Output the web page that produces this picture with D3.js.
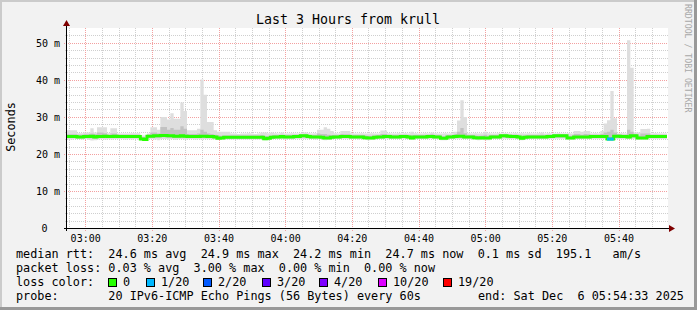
<!DOCTYPE html>
<html>
<head>
<meta charset="utf-8">
<script src="https://cdn.jsdelivr.net/npm/d3@7"></script>
<style>
  html, body { margin: 0; padding: 0; background: #f2f2f2; }
  svg { display: block; }
  text { font-family: "DejaVu Sans Mono", monospace; fill: #000; }
</style>
</head>
<body>
<svg></svg>
<script>
// one sample per minute, 02:54:33 .. 05:54:33 (180 samples)
const startTime = Date.UTC(2025, 11, 6, 2, 54, 33);
const endTime = Date.UTC(2025, 11, 6, 5, 54, 33);

// median rtt in ms
const median = [
  24.7,24.7,24.7,24.6,24.6,24.7,24.7,24.8,24.6,24.7,
  24.7,24.8,24.7,24.7,24.8,24.7,24.7,24.7,24.7,24.7,
  24.7,24.7,24.0,23.9,24.8,24.8,24.9,24.9,25.0,25.0,
  24.9,24.9,24.8,24.8,24.9,24.8,24.7,24.7,24.7,24.7,
  24.8,24.8,24.7,24.7,24.6,24.2,24.3,24.5,24.5,24.5,
  24.5,24.5,24.5,24.5,24.5,24.5,24.5,24.5,24.5,24.1,
  24.2,24.5,24.6,24.6,24.7,24.6,24.6,24.6,24.7,24.7,
  24.9,24.9,24.7,24.6,24.6,24.6,24.5,24.3,24.3,24.5,
  24.6,24.6,24.7,24.7,24.7,24.6,24.6,24.6,24.6,24.4,
  24.3,24.3,24.5,24.6,24.6,24.7,24.7,24.6,24.6,24.6,
  24.7,24.7,24.6,24.3,24.6,24.6,24.6,24.6,24.7,24.7,
  24.6,24.6,24.2,24.2,24.6,24.6,24.7,24.8,24.8,24.6,
  24.6,24.6,24.4,24.3,24.4,24.3,24.3,24.6,24.6,24.6,
  24.9,24.9,24.8,24.7,24.7,24.6,24.2,24.5,24.6,24.6,
  24.6,24.6,24.6,24.6,24.7,24.7,24.9,24.9,24.9,24.9,
  24.3,24.3,24.6,24.6,24.6,24.6,24.6,24.7,24.7,24.7,
  24.7,24.7,24.0,24.0,24.8,24.8,24.7,24.7,24.6,24.9,
  24.9,24.3,24.3,24.3,24.7,24.7,24.7,24.7,24.7,24.7
];

// lost pings out of 20 per sample
const loss = [
  0,0,0,0,0,0,0,0,0,0, 0,0,0,0,0,0,0,0,0,0,
  0,0,0,0,0,0,0,0,0,0, 0,0,0,0,0,0,0,0,0,0,
  0,0,0,0,0,0,0,0,0,0, 0,0,0,0,0,0,0,0,0,0,
  0,0,0,0,0,0,0,0,0,0, 0,0,0,0,0,0,0,0,0,0,
  0,0,0,0,0,0,0,0,0,0, 0,0,0,0,0,0,0,0,0,0,
  0,0,0,0,0,0,0,0,0,0, 0,0,0,0,0,0,0,0,0,0,
  0,0,0,0,0,0,0,0,0,0, 0,0,0,0,0,0,0,0,0,0,
  0,0,0,0,0,0,0,0,0,0, 0,0,0,0,0,0,0,0,0,0,
  0,0,1,1,0,0,0,0,0,0, 0,0,0,0,0,0,0,0,0,0
];

// slowest ping (top of smoke), ms
const smokeMax = [
  26.4,26.4,26.4,25.6,25.6,25.8,25.8,26.9,25.8,27.2,
  27.2,27.2,25.6,26.9,26.9,25.5,25.5,25.5,25.5,25.6,
  25.6,25.6,25.0,25.0,25.5,27.2,27.2,26.5,30.0,30.0,
  29.3,31.0,29.5,29.5,33.9,31.6,26.4,26.4,26.4,26.8,
  40.1,36.0,28.6,28.6,26.4,26.0,26.0,26.0,26.0,25.5,
  25.5,25.4,25.5,25.5,25.6,25.5,25.4,25.5,25.8,25.8,
  25.6,25.8,25.6,25.5,25.8,25.5,25.5,25.6,25.5,25.5,
  25.6,25.8,25.6,25.5,25.6,26.5,26.5,27.2,26.8,26.2,
  25.6,25.5,26.2,26.2,26.2,25.6,25.5,25.5,25.6,25.5,
  25.5,25.6,25.5,25.5,26.3,26.3,25.6,25.5,25.5,25.6,
  25.5,25.6,25.5,26.0,25.6,25.5,25.5,25.6,25.5,25.8,
  25.6,25.5,25.5,25.6,25.5,25.6,26.0,29.0,34.5,30.0,
  25.6,25.5,25.6,25.5,25.6,26.0,25.6,25.5,25.5,25.6,
  25.5,25.6,25.5,25.5,25.6,25.5,25.6,25.5,25.6,25.5,
  25.5,25.6,25.8,25.5,25.6,25.5,25.5,25.6,25.5,25.5,
  25.6,25.5,26.2,26.2,26.0,26.2,26.2,25.5,25.6,25.5,
  26.2,28.2,29.1,37.0,29.6,25.5,25.6,25.5,50.7,43.3,
  25.8,25.8,26.7,26.7,26.8,25.5,25.6,25.5,25.5,25.5
];

// fastest ping (bottom of smoke), ms
const smokeMin = [
  23.9,23.9,24.0,24.0,23.9,24.0,23.8,23.6,23.7,23.9,
  24.0,23.9,24.0,23.9,24.0,24.0,24.0,23.9,24.0,23.9,
  24.0,23.9,23.6,23.5,24.0,24.0,23.9,23.7,24.0,24.0,
  23.9,24.0,23.8,24.0,24.0,23.9,24.0,24.0,23.9,24.0,
  23.9,24.0,24.0,23.9,23.9,23.8,23.8,23.9,23.9,23.9,
  23.9,23.9,23.9,23.9,23.9,23.9,23.9,23.9,23.9,23.7,
  23.8,23.9,24.0,24.0,24.0,23.9,24.0,23.9,24.0,24.0,
  24.0,24.0,24.0,24.0,23.9,24.0,23.9,23.7,23.8,23.9,
  24.0,24.0,24.0,24.0,24.0,24.0,24.0,23.9,24.0,23.8,
  23.7,23.8,23.9,24.0,24.0,24.0,24.0,24.0,24.0,24.0,
  24.0,24.0,24.0,23.8,24.0,24.0,24.0,24.0,24.0,24.0,
  24.0,24.0,23.7,23.7,24.0,24.0,24.0,24.0,24.0,24.0,
  24.0,23.9,23.8,23.7,23.8,23.7,23.7,24.0,24.0,24.0,
  24.1,24.1,24.0,24.0,24.0,24.0,23.7,23.9,24.0,24.0,
  24.0,24.0,24.0,24.0,24.0,24.0,24.1,24.1,24.1,24.1,
  23.8,23.8,24.0,24.0,24.0,24.0,24.0,24.0,24.0,24.0,
  24.0,24.0,23.6,23.6,24.0,24.0,24.0,24.0,24.0,24.0,
  24.1,23.8,23.8,23.8,24.0,24.0,24.0,24.0,24.0,24.0
];

// inner part of the smoke (middle pings), ms
const innerHi = [
  25.3,25.3,25.3,25.2,25.2,25.3,25.3,25.5,25.3,25.8,
  25.8,25.6,25.2,25.5,25.5,25.2,25.2,25.2,25.2,25.2,
  25.2,25.2,24.6,24.5,25.2,25.8,25.8,25.5,27.3,27.3,
  26.5,27.0,26.5,26.5,27.5,26.8,25.4,25.4,25.4,25.5,
  26.5,26.0,25.5,25.4,25.2,25.0,24.9,25.0,25.0,25.0,
  25.0,25.0,25.0,25.0,25.0,25.0,25.0,25.0,25.1,24.8,
  24.8,25.0,25.1,25.1,25.2,25.1,25.1,25.1,25.2,25.2,
  25.3,25.3,25.2,25.1,25.1,25.5,25.4,25.4,25.2,25.1,
  25.1,25.1,25.4,25.3,25.3,25.1,25.1,25.1,25.1,25.0,
  24.9,24.9,25.0,25.1,25.4,25.4,25.2,25.1,25.1,25.1,
  25.2,25.2,25.1,25.0,25.1,25.1,25.1,25.1,25.2,25.3,
  25.1,25.1,24.8,24.8,25.1,25.1,25.3,26.0,27.0,25.6,
  25.1,25.1,25.0,24.9,25.0,25.2,24.9,25.1,25.1,25.1,
  25.3,25.3,25.2,25.2,25.2,25.1,24.8,25.0,25.1,25.1,
  25.1,25.1,25.2,25.1,25.2,25.2,25.3,25.3,25.3,25.3,
  24.9,24.9,25.4,25.4,25.2,25.4,25.3,25.2,25.2,25.2,
  25.4,25.8,26.0,26.5,25.8,25.3,25.2,25.2,26.5,26.0,
  25.4,25.0,25.5,25.5,25.5,25.2,25.2,25.2,25.2,25.2
];
const innerLo = [
  24.3,24.3,24.3,24.2,24.2,24.3,24.2,24.2,24.1,24.3,
  24.3,24.3,24.3,24.3,24.3,24.3,24.3,24.3,24.3,24.3,
  24.3,24.3,23.8,23.7,24.4,24.4,24.4,24.4,24.5,24.5,
  24.4,24.4,24.3,24.3,24.4,24.3,24.3,24.3,24.3,24.3,
  24.4,24.3,24.3,24.3,24.2,23.9,24.0,24.1,24.1,24.1,
  24.1,24.1,24.1,24.1,24.1,24.1,24.1,24.1,24.1,23.9,
  24.0,24.1,24.2,24.2,24.3,24.2,24.2,24.2,24.3,24.3,
  24.4,24.4,24.3,24.2,24.2,24.2,24.1,24.0,24.0,24.1,
  24.2,24.2,24.3,24.3,24.3,24.2,24.2,24.2,24.2,24.1,
  24.0,24.0,24.1,24.2,24.2,24.3,24.3,24.2,24.2,24.2,
  24.3,24.3,24.2,24.0,24.2,24.2,24.2,24.2,24.3,24.3,
  24.2,24.2,23.9,23.9,24.2,24.2,24.3,24.3,24.3,24.2,
  24.2,24.2,24.1,24.0,24.1,24.0,24.0,24.2,24.2,24.2,
  24.4,24.4,24.3,24.3,24.3,24.2,23.9,24.1,24.2,24.2,
  24.2,24.2,24.2,24.2,24.3,24.3,24.4,24.4,24.4,24.4,
  24.0,24.0,24.2,24.2,24.2,24.2,24.2,24.3,24.3,24.3,
  24.3,24.3,23.8,23.8,24.3,24.3,24.3,24.3,24.2,24.4,
  24.4,24.0,24.0,24.0,24.3,24.3,24.3,24.3,24.3,24.3
];

// y axis ticks (ms) and labels
const yTicks = [0, 10, 20, 30, 40, 50];
const yTickLabels = ["0", "10 m", "20 m", "30 m", "40 m", "50 m"];

// loss colour legend
const lossLabels = ["0", "1/20", "2/20", "3/20", "4/20", "10/20", "19/20"];
const lossLevels = [0, 1, 2, 3, 4, 10, 19];
const lossColors = ["#26ff00", "#00b8ff", "#0059ff", "#5e00ff", "#7e00ff", "#dd00ff", "#ff0000"];

const legendLines = [
  "median rtt:  24.6 ms avg  24.9 ms max  24.2 ms min  24.7 ms now  0.1 ms sd  195.1   am/s",
  "packet loss: 0.03 % avg  3.00 % max  0.00 % min  0.00 % now"
];
const probeText = "probe:       20 IPv6-ICMP Echo Pings (56 Bytes) every 60s";
const endText = "end: Sat Dec  6 05:54:33 2025";

// ---- layout
const svgWidth = 697, svgHeight = 310;
const plot = { left: 67, right: 667, top: 28, bottom: 228 };

const svg = d3.select("svg")
  .attr("width", svgWidth)
  .attr("height", svgHeight);

// canvas and 3d-ish border
svg.append("rect").attr("width", svgWidth).attr("height", svgHeight).attr("fill", "#f2f2f2");
svg.append("rect").attr("x", 0).attr("y", 0).attr("width", svgWidth).attr("height", 2).attr("fill", "#cbcbcb");
svg.append("rect").attr("x", 0).attr("y", 0).attr("width", 2).attr("height", svgHeight).attr("fill", "#cbcbcb");
svg.append("rect").attr("x", 0).attr("y", svgHeight - 3).attr("width", svgWidth).attr("height", 3).attr("fill", "#999");
svg.append("rect").attr("x", svgWidth - 3).attr("y", 0).attr("width", 3).attr("height", svgHeight).attr("fill", "#999");

// scales
const xScale = d3.scaleUtc()
  .domain([startTime, endTime])
  .range([plot.left, plot.right]);
const yScale = d3.scaleLinear()
  .domain([0, 54])
  .range([plot.bottom, plot.top]);

// plot background
svg.append("rect")
  .attr("x", plot.left).attr("y", plot.top)
  .attr("width", plot.right - plot.left + 1).attr("height", plot.bottom - plot.top)
  .attr("fill", "#fff");

const snap = v => Math.round(v) + 0.5;

// grid
const gridGroup = svg.append("g").attr("shape-rendering", "crispEdges");
const minorX = xScale.ticks(d3.utcMinute.every(5));
const majorX = xScale.ticks(d3.utcMinute.every(20));
const isMajorX = t => majorX.some(m => +m === +t);
const minorY = d3.range(2, 54, 2);

gridGroup.selectAll(".vminor")
  .data(minorX.filter(t => !isMajorX(t)))
  .enter().append("line")
  .attr("x1", d => snap(xScale(d))).attr("x2", d => snap(xScale(d)))
  .attr("y1", plot.top).attr("y2", plot.bottom + 2)
  .attr("stroke", "#cfcfcf").attr("stroke-dasharray", "1,1");
gridGroup.selectAll(".hminor")
  .data(minorY.filter(v => v % 10 !== 0))
  .enter().append("line")
  .attr("x1", plot.left - 2).attr("x2", plot.right + 1)
  .attr("y1", d => snap(yScale(d))).attr("y2", d => snap(yScale(d)))
  .attr("stroke", "#cfcfcf").attr("stroke-dasharray", "1,1");
gridGroup.selectAll(".vmajor")
  .data(majorX)
  .enter().append("line")
  .attr("x1", d => snap(xScale(d))).attr("x2", d => snap(xScale(d)))
  .attr("y1", plot.top).attr("y2", plot.bottom + 3)
  .attr("stroke", "#f3a0a0").attr("stroke-dasharray", "1,1");
gridGroup.selectAll(".hmajor")
  .data(yTicks.filter(v => v > 0))
  .enter().append("line")
  .attr("x1", plot.left - 3).attr("x2", plot.right + 1)
  .attr("y1", d => snap(yScale(d))).attr("y2", d => snap(yScale(d)))
  .attr("stroke", "#f3a0a0").attr("stroke-dasharray", "1,1");

// samples
const samples = median.map((m, i) => ({
  t: startTime + i * 60000,
  median: m,
  loss: loss[i],
  max: smokeMax[i],
  min: smokeMin[i],
  hi: innerHi[i],
  lo: innerLo[i]
}));
const stepped = samples.concat([Object.assign({}, samples[samples.length - 1], { t: endTime })]);

// smoke
const outerArea = d3.area()
  .x(d => xScale(d.t)).y0(d => yScale(d.min)).y1(d => yScale(d.max))
  .curve(d3.curveStepAfter);
const innerArea = d3.area()
  .x(d => xScale(d.t)).y0(d => yScale(d.lo)).y1(d => yScale(d.hi))
  .curve(d3.curveStepAfter);

svg.append("path").datum(stepped).attr("d", outerArea).attr("fill", "#dedede");
svg.append("path").datum(stepped).attr("d", innerArea).attr("fill", "#c2c2c2");

// median line, coloured by loss
const colorFor = l => {
  let c = lossColors[0];
  lossLevels.forEach((lv, k) => { if (l >= lv) c = lossColors[k]; });
  return c;
};
const medianLine = d3.line()
  .x(d => xScale(d.t)).y(d => yScale(d.median))
  .curve(d3.curveStepAfter);
svg.append("path").datum(stepped).attr("d", medianLine)
  .attr("fill", "none").attr("stroke", lossColors[0]).attr("stroke-width", 3);
svg.selectAll(".lossSeg")
  .data(samples.filter(d => d.loss > 0))
  .enter().append("line")
  .attr("x1", d => xScale(d.t)).attr("x2", d => xScale(d.t + 60000))
  .attr("y1", d => yScale(d.median)).attr("y2", d => yScale(d.median))
  .attr("stroke", d => colorFor(d.loss)).attr("stroke-width", 3);

// axes
const axisGroup = svg.append("g").attr("shape-rendering", "crispEdges");
axisGroup.append("line")
  .attr("x1", plot.left - 3).attr("x2", plot.right + 3)
  .attr("y1", snap(yScale(0))).attr("y2", snap(yScale(0)))
  .attr("stroke", "#000");
axisGroup.append("line")
  .attr("x1", plot.left - 0.5).attr("x2", plot.left - 0.5)
  .attr("y1", plot.bottom + 3).attr("y2", plot.top - 4)
  .attr("stroke", "#000");
// arrow heads
svg.append("path")
  .attr("d", `M${plot.right + 2},${snap(yScale(0)) - 3.5} L${plot.right + 8},${snap(yScale(0))} L${plot.right + 2},${snap(yScale(0)) + 3.5} Z`)
  .attr("fill", "#7f0000");
svg.append("path")
  .attr("d", `M${plot.left - 4},${plot.top - 2} L${plot.left - 0.5},${plot.top - 8} L${plot.left + 3},${plot.top - 2} Z`)
  .attr("fill", "#7f0000");

// y labels
svg.selectAll(".ylab")
  .data(yTicks)
  .enter().append("text")
  .attr("x", (d, i) => i === 0 ? 47.5 : 60)
  .attr("y", d => yScale(d) + 4)
  .attr("text-anchor", "end")
  .style("font-size", "10px")
  .text((d, i) => yTickLabels[i]);

// x labels
const timeFmt = d3.utcFormat("%H:%M");
svg.selectAll(".xlab")
  .data(majorX)
  .enter().append("text")
  .attr("x", d => xScale(d) + 0.5)
  .attr("y", 241.5)
  .attr("text-anchor", "middle")
  .style("font-size", "10px")
  .text(d => timeFmt(d));

// title
svg.append("text")
  .attr("x", 348).attr("y", 24)
  .attr("text-anchor", "middle")
  .style("font-size", "13.3px")
  .text("Last 3 Hours from krull");

// y title
svg.append("text")
  .attr("transform", "translate(15,127) rotate(-90)")
  .attr("text-anchor", "middle")
  .style("font-size", "11.8px")
  .text("Seconds");

// watermark
svg.append("text")
  .attr("transform", "translate(685,4) rotate(90)")
  .style("font-size", "8.2px")
  .style("fill", "#a8a8a8")
  .text("RRDTOOL / TOBI OETIKER");

// legend
svg.selectAll(".legline")
  .data(legendLines)
  .enter().append("text")
  .attr("x", 16).attr("y", (d, i) => 258 + i * 14)
  .style("font-size", "11.8px")
  .style("white-space", "pre")
  .attr("xml:space", "preserve")
  .text(d => d);

svg.append("text")
  .attr("x", 16).attr("y", 286)
  .style("font-size", "11.8px")
  .text("loss color:");

const boxX = [108, 146, 203, 262, 319, 378, 443];
const lossLegend = svg.selectAll(".lossleg")
  .data(lossLabels)
  .enter().append("g")
  .attr("transform", (d, i) => `translate(${boxX[i]},0)`);
lossLegend.append("rect")
  .attr("x", 0.5).attr("y", 278.5).attr("width", 8).attr("height", 8)
  .attr("fill", (d, i) => lossColors[i]).attr("stroke", "#000")
  .attr("shape-rendering", "crispEdges");
lossLegend.append("text")
  .attr("x", 15).attr("y", 286)
  .style("font-size", "11.8px")
  .text(d => d);

svg.append("text")
  .attr("x", 16).attr("y", 300)
  .style("font-size", "11.8px")
  .style("white-space", "pre")
  .attr("xml:space", "preserve")
  .text(probeText);
svg.append("text")
  .attr("x", 478).attr("y", 300)
  .style("font-size", "11.8px")
  .style("white-space", "pre")
  .attr("xml:space", "preserve")
  .text(endText);
</script>
</body>
</html>
